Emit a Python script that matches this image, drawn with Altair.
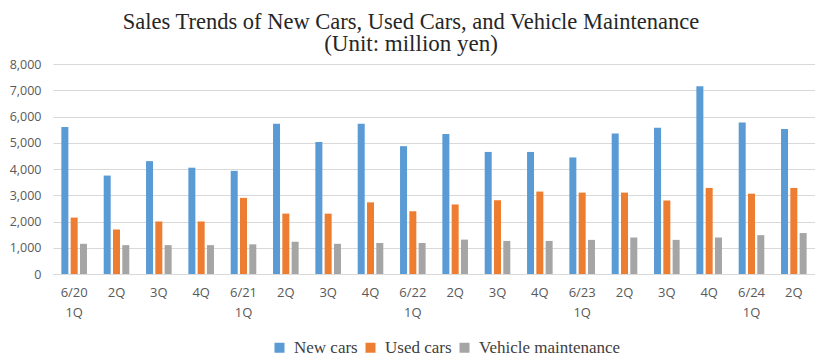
import json
import altair as alt
import pandas as pd

periods = ["6/20|1Q", "2Q", "3Q", "4Q", "6/21|1Q", "2Q", "3Q", "4Q",
           "6/22|1Q", "2Q", "3Q", "4Q", "6/23|1Q", "2Q", "3Q", "4Q",
           "6/24|1Q", "2Q"]
series = ["New cars", "Used cars", "Vehicle maintenance"]
new_cars = [5600, 3750, 4300, 4050, 3930, 5720, 5030, 5720, 4870, 5330,
            4650, 4650, 4440, 5350, 5570, 7150, 5770, 5520]
used_cars = [2150, 1700, 2000, 2000, 2900, 2300, 2300, 2730, 2390, 2650,
             2810, 3140, 3100, 3100, 2800, 3280, 3060, 3280]
maintenance = [1150, 1100, 1100, 1100, 1130, 1230, 1150, 1180, 1180, 1310,
               1260, 1260, 1300, 1390, 1300, 1390, 1480, 1560]
colors = ["#5B9BD5", "#ED7D31", "#A5A5A5"]

rows = []
for name, vals in zip(series, [new_cars, used_cars, maintenance]):
    for i, v in enumerate(vals):
        rows.append({"idx": i, "series": name, "value": v})
df = pd.DataFrame(rows)

label_expr = "split(" + json.dumps(periods) + "[datum.value], '|')"

chart = alt.Chart(df).mark_bar().encode(
    x=alt.X("idx:O", title=None,
            scale=alt.Scale(paddingInner=0.395, paddingOuter=0.1975),
            axis=alt.Axis(labelExpr=label_expr, labelAngle=0, labelFont="Open Sans",
                          labelFontSize=13, labelColor="#595959", labelLineHeight=20,
                          labelPadding=12, ticks=False, domainColor="#D9D9D9",
                          domainWidth=1, grid=False)),
    xOffset=alt.XOffset("series:N", sort=series,
                        scale=alt.Scale(paddingInner=0.247, paddingOuter=0)),
    y=alt.Y("value:Q", title=None,
            scale=alt.Scale(domain=[0, 8000]),
            axis=alt.Axis(values=list(range(0, 8001, 1000)), format=",.0f",
                          labelFont="Open Sans", labelFontSize=12.5,
                          labelColor="#595959", labelPadding=12, ticks=False,
                          domain=False, gridColor="#D9D9D9", gridWidth=1)),
    color=alt.Color("series:N", sort=series,
                    scale=alt.Scale(domain=series, range=colors),
                    legend=alt.Legend(title=None, orient="none", direction="horizontal",
                                      legendX=218, legendY=275, symbolType="square",
                                      symbolSize=100, symbolStrokeWidth=0,
                                      labelFont="Liberation Serif", labelFontSize=17,
                                      labelColor="#404040", columnPadding=4,
                                      labelOffset=6)),
).properties(
    width=762,
    height=210,
    padding={"left": 45, "top": 56, "right": 0, "bottom": 82},
    autosize="none",
    title=alt.TitleParams(
        text="Sales Trends of New Cars, Used Cars, and Vehicle Maintenance",
        subtitle="(Unit: million yen)",
        font="Liberation Serif", fontSize=22.5, fontWeight="normal",
        color="#262626", subtitleFont="Liberation Serif", subtitleFontSize=23,
        subtitleColor="#262626", subtitlePadding=0, lineHeight=22,
        subtitleLineHeight=20, anchor="middle", dx=-23, offset=2),
).configure_view(stroke=None)

chart.save("out.html", embed_options={"renderer": "svg", "actions": False})
